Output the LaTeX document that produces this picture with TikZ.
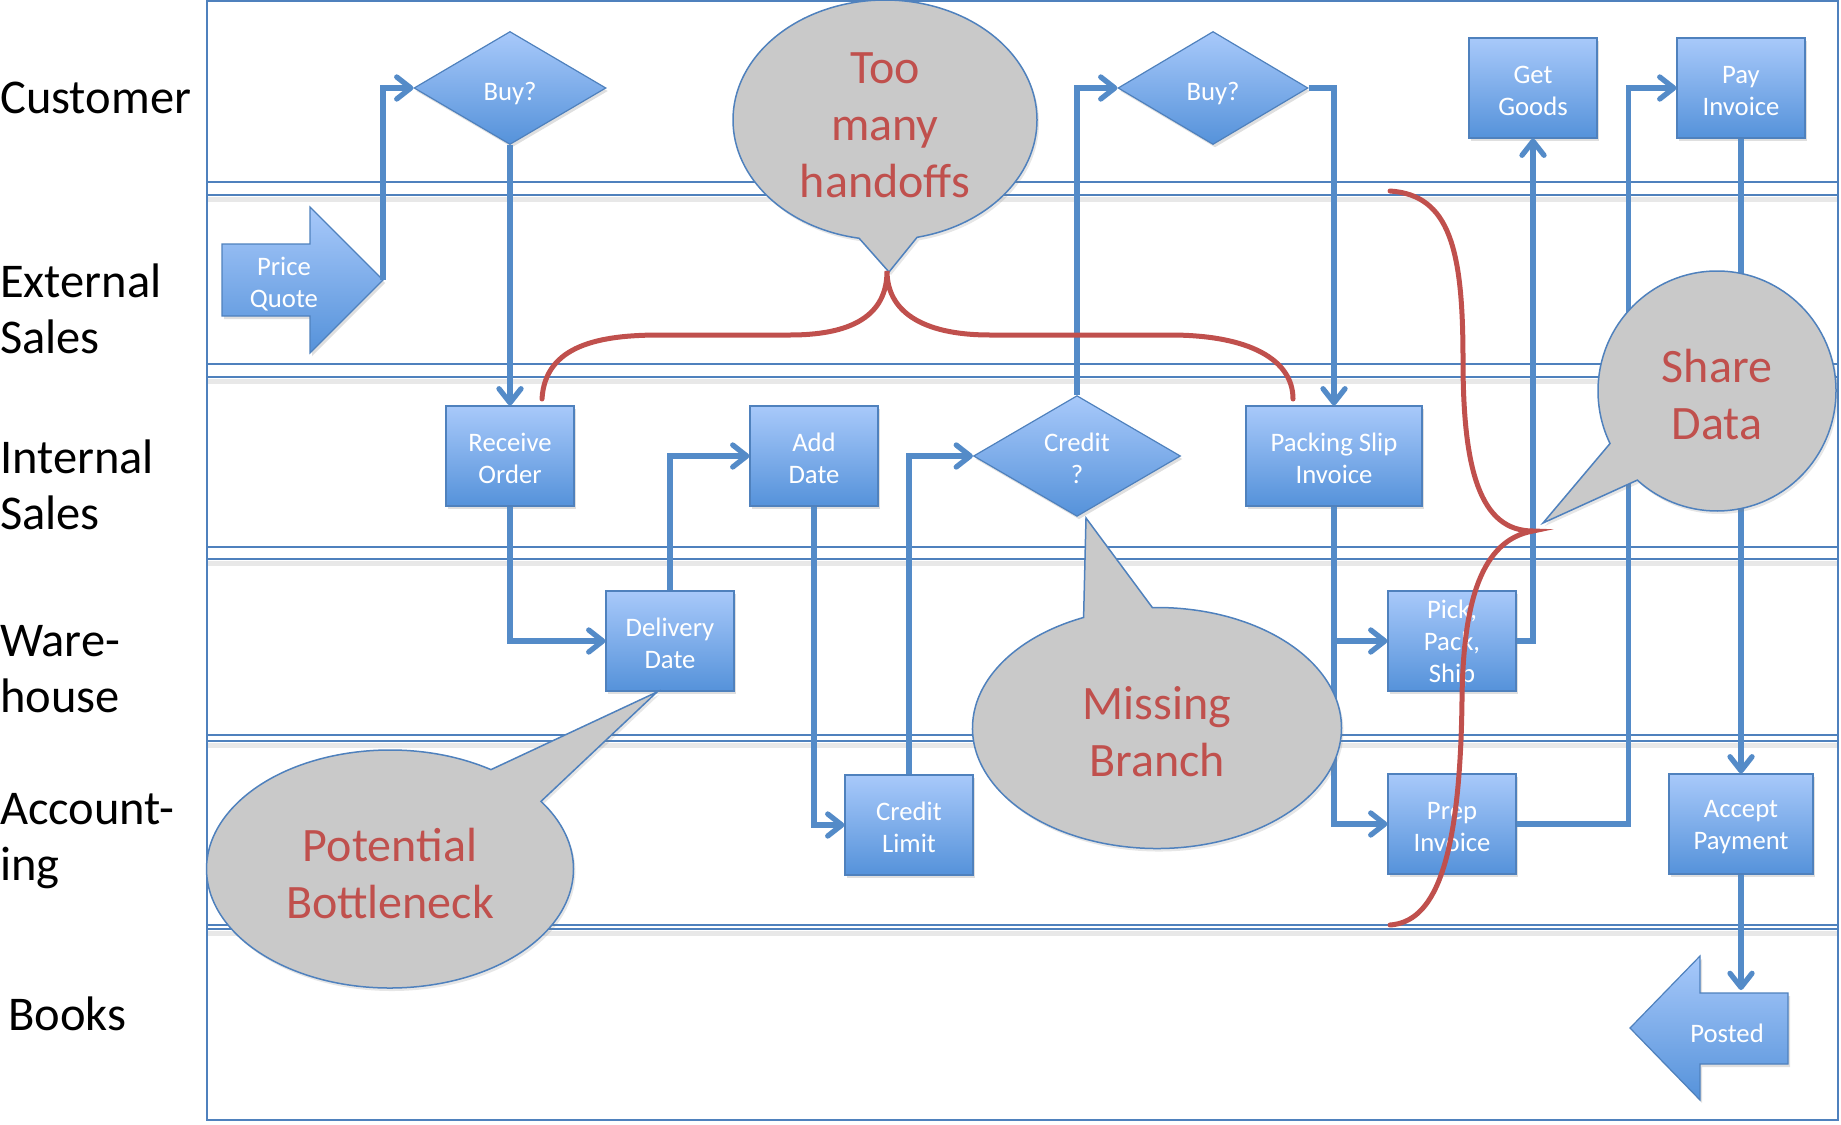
\documentclass[tikz,border=0pt]{standalone}
\usepackage{fontspec}
\setmainfont{Carlito}
\usepackage{tikz}
\usetikzlibrary{shapes.geometric,shapes.callouts,arrows.meta,shadows}

\definecolor{laneblue}{HTML}{4F81BD}
\definecolor{linkblue}{HTML}{548BC8}
\definecolor{boxtop}{HTML}{A8C9FA}
\definecolor{boxbot}{HTML}{5592DA}
\definecolor{bubblegray}{HTML}{C9C9C9}
\definecolor{notered}{HTML}{C0504D}

\newcommand{\padtop}[1]{\rule{0pt}{#1}}

\begin{document}
\begin{tikzpicture}[x=1pt,y=-1pt,
    lane/.style={laneblue,line width=2.6pt},
    laneshade/.style={black!9,line width=5pt},
    lanename/.style={anchor=base west,align=left,inner sep=0pt,
        font=\fontsize{48.5}{56}\selectfont},
    task/.style={draw=laneblue,line width=1.2pt,top color=boxtop,bottom color=boxbot,
        text=white,align=center,inner sep=0pt,minimum width=128pt,minimum height=100pt,
        font=\fontsize{26.7}{32}\selectfont,
        drop shadow={shadow xshift=2pt,shadow yshift=-3pt,opacity=.25}},
    choice/.style={task,diamond,minimum width=192pt,minimum height=113pt},
    bigarrow/.style={draw=laneblue,line width=1.2pt,top color=boxtop,bottom color=boxbot,
        drop shadow={shadow xshift=2pt,shadow yshift=-3pt,opacity=.25}},
    arrowtext/.style={text=white,align=center,inner sep=0pt,font=\fontsize{26.7}{32}\selectfont},
    flow/.style={linkblue,line width=5.3pt,-{Straight Barb[length=14pt,width=22pt,round]}},
    note/.style={ellipse callout,draw=laneblue,line width=1.5pt,fill=bubblegray,
        text=notered,align=center,inner sep=0pt,callout pointer arc=22,
        font=\fontsize{48}{57}\selectfont,
        drop shadow={shadow xshift=2pt,shadow yshift=-3pt,opacity=.2}},
    brace/.style={notered,line width=5pt,line cap=round}
  ]
  \useasboundingbox (0,0) rectangle (1841,1124);

  % swim lanes
  \foreach \ya/\yb in {182/195,364/377,547/559,735/741,925/929} {
    \draw[laneshade] (207,\yb+4) -- (1838,\yb+4);
    \draw[lane] (207,\ya) -- (1838,\ya);
    \draw[lane] (207,\yb) -- (1838,\yb);
  }
  \draw[lane] (207,1) rectangle (1838,1120);

  \node[lanename] (lcust) at (0,113) {Customer};
  \node[lanename] (lext) at (0,353) {External\\Sales};
  \node[lanename] (lint) at (0,529) {Internal\\Sales};
  \node[lanename] (lware) at (0,712) {Ware-\\house};
  \node[lanename] (lacc) at (0,880) {Account-\\ing};
  \node[lanename] (lbook) at (8,1030) {Books};

  % steps
  \node[choice] (buy1) at (510,88) {\padtop{29pt}Buy?};
  \node[choice,minimum width=190pt] (buy2) at (1213,88) {\padtop{29pt}Buy?};
  \node[task] (goods) at (1533,88) {\padtop{23pt}Get\\Goods};
  \node[task] (payinv) at (1741,88) {\padtop{23pt}Pay\\Invoice};
  \node[task] (recv) at (510,456) {\padtop{23pt}Receive\\Order};
  \node[task] (adddate) at (814,456) {\padtop{23pt}Add\\Date};
  \node[choice,minimum width=207pt,minimum height=110pt] (credit) at (1077,456)
    {\padtop{23pt}Credit\\?};
  \node[task,minimum width=176pt] (pslip) at (1334,456) {\padtop{23pt}Packing Slip\\Invoice};
  \node[task] (deliv) at (670,641) {\padtop{23pt}Delivery\\Date};
  \node[task] (pps) at (1452,641) {\padtop{23pt}Pick,\\Pack,\\Ship};
  \node[task] (climit) at (909,825) {\padtop{23pt}Credit\\Limit};
  \node[task] (prep) at (1452,824) {\padtop{23pt}Prep\\Invoice};
  \node[task,minimum width=144pt] (accept) at (1741,824) {\padtop{23pt}Accept\\Payment};

  % start and end arrows
  \path[bigarrow] (222,244) -- (310,244) -- (310,207) -- (383,280) -- (310,353)
    -- (310,316) -- (222,316) -- cycle;
  \node[arrowtext] (quote) at (284,284) {Price\\Quote};
  \coordinate (quotetip) at (383,280);
  \path[bigarrow] (1788,993) -- (1700,993) -- (1700,956) -- (1630,1028) -- (1700,1100)
    -- (1700,1064) -- (1788,1064) -- cycle;
  \node[arrowtext] (posted) at (1727,1033) {Posted};
  \coordinate (postedtop) at (1741,990);

  % connectors
  \draw[flow] (quotetip) |- (buy1.west);
  \draw[flow] (buy1.south) -- (recv.north);
  \draw[flow] (recv.south) |- (deliv.west);
  \draw[flow] (deliv.north) |- (adddate.west);
  \draw[flow] (adddate.south) |- (climit.west);
  \draw[flow] (climit.north) |- (credit.west);
  \draw[flow] (credit.north) |- (buy2.west);
  \draw[flow] (buy2.east) -| (pslip.north);
  \draw[flow] (pslip.south) |- (pps.west);
  \draw[flow] (pslip.south) |- (prep.west);
  \draw[flow] (pps.east) -| (goods.south);
  \draw[flow] (prep.east) -- ++(112,0) |- (payinv.west);
  \draw[flow] (payinv.south) -- (accept.north);
  \draw[flow] (accept.south) -- (postedtop);

  % comments
  \node[note,minimum width=304pt,minimum height=240pt,
    callout absolute pointer={(889,272)}] (handoffs) at (885,120)
    {\padtop{41pt}Too\\many\\handoffs};
  \node[note,minimum width=369pt,minimum height=241pt,
    callout absolute pointer={(1086,518)}] (branch) at (1157,728)
    {\padtop{41pt}Missing\\Branch};
  \node[note,minimum width=367pt,minimum height=238pt,
    callout absolute pointer={(657,692)}] (bottle) at (390,869)
    {\padtop{43pt}Potential\\Bottleneck};
  \node[note,minimum width=238pt,minimum height=240pt,
    callout absolute pointer={(1543,523)}] (share) at (1717,391)
    {\padtop{41pt}Share\\Data};

  \draw[brace] (542,399) .. controls (545,345) and (600,335) .. (660,335) -- (790,335)
    .. controls (860,335) and (887,310) .. (887,271)
    .. controls (887,310) and (920,335) .. (990,335) -- (1170,335)
    .. controls (1250,335) and (1293,360) .. (1293,399);
  \draw[brace] (1390,191) .. controls (1450,195) and (1463,250) .. (1463,360)
    .. controls (1463,470) and (1480,531) .. (1533,531)
    .. controls (1482,540) and (1463,600) .. (1462,700)
    .. controls (1460,870) and (1432,922) .. (1390,925);
\end{tikzpicture}
\end{document}
